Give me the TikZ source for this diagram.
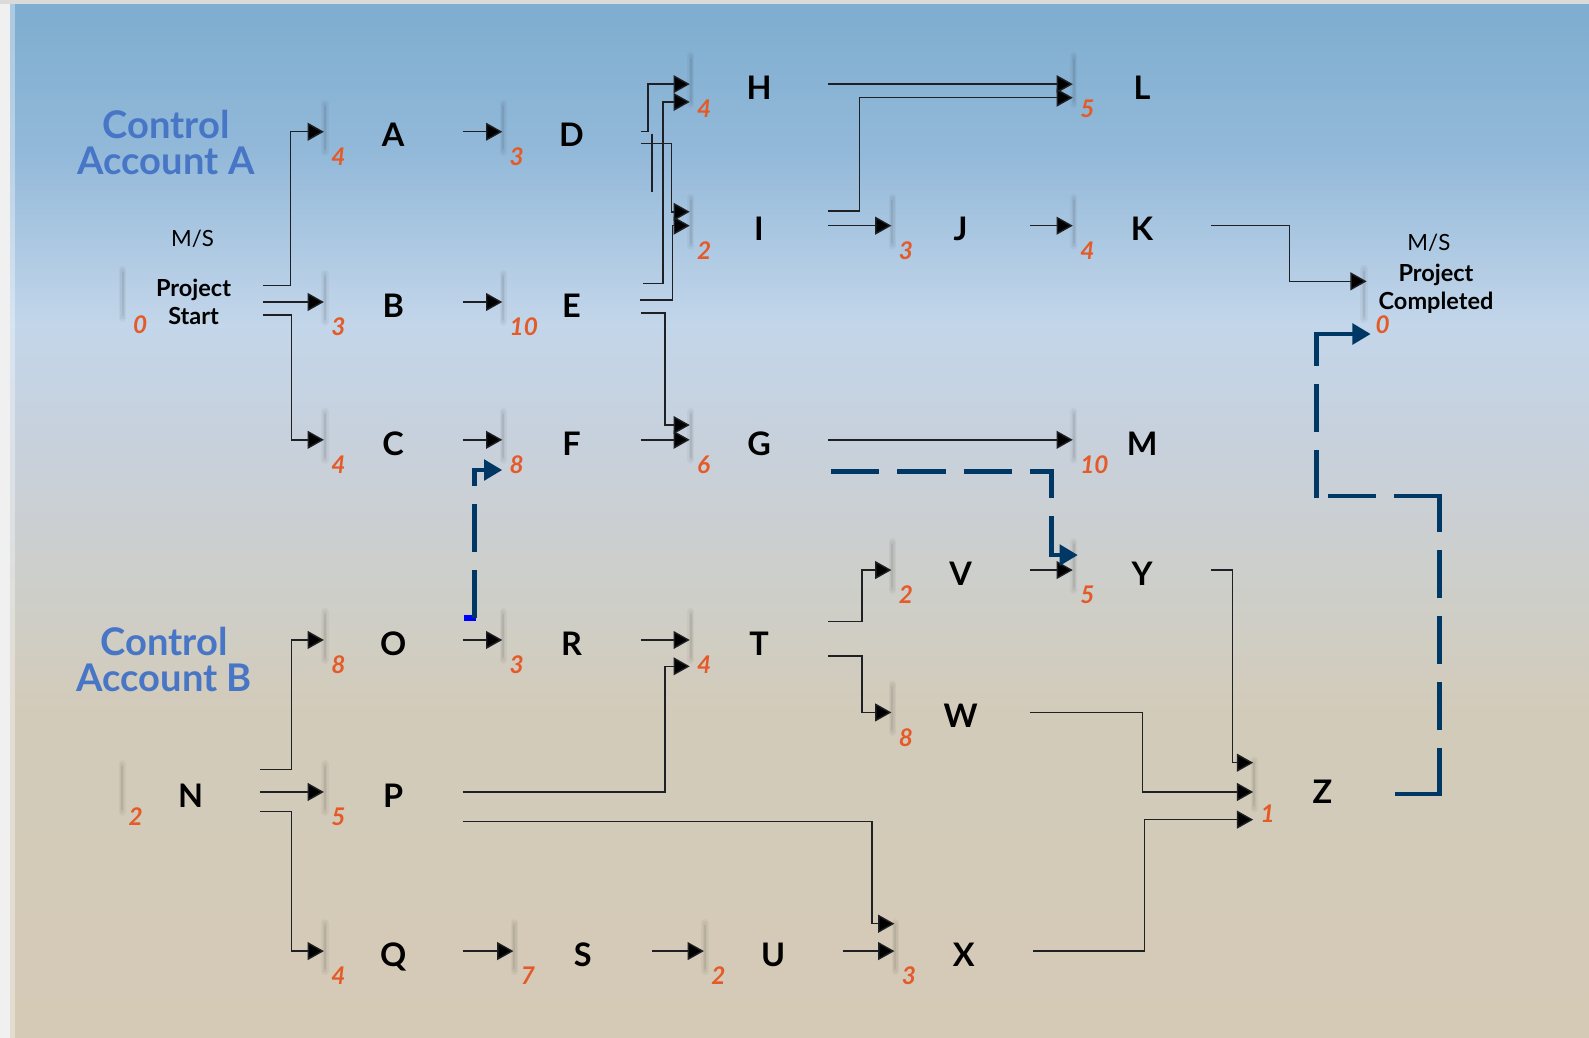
\documentclass[tikz,border=0pt]{standalone}
\usepackage{fontspec}
\setmainfont{Lato}
\usepackage{xcolor}
\usetikzlibrary{arrows.meta,positioning,calc}

\definecolor{durorange}{RGB}{228,90,40}
\definecolor{ctrlblue}{RGB}{72,118,198}
\definecolor{critnavy}{RGB}{0,56,101}
\definecolor{linkgray}{RGB}{30,32,36}
\definecolor{pagegray}{RGB}{218,218,218}
\definecolor{bgbeige}{RGB}{212,202,182}
\definecolor{bgsand}{RGB}{211,203,186}
\definecolor{bggray}{RGB}{205,207,204}
\definecolor{bgmist}{RGB}{200,208,218}
\definecolor{bglight}{RGB}{195,214,234}
\definecolor{bgsky}{RGB}{147,185,217}
\definecolor{bgtop}{RGB}{128,174,208}

\pgfdeclareverticalshading{panelshade}{100bp}{color(0bp)=(bgbeige); color(25bp)=(bgbeige);
  color(40.9bp)=(bgsand); color(47.7bp)=(bggray); color(53.1bp)=(bgmist);
  color(59.5bp)=(bglight); color(67.8bp)=(bgsky); color(74.2bp)=(bgtop); color(100bp)=(bgtop)}

\begin{document}
\begin{tikzpicture}[x=0.5pt, y=-0.5pt,
act/.style={font=\bfseries\fontsize{16pt}{16pt}\selectfont, minimum width=68pt, inner sep=0pt, text height=15pt, text depth=0pt},
ms/.style={font=\bfseries\fontsize{11.6pt}{13.8pt}\selectfont, align=center, minimum width=68pt, inner sep=0pt},
msl/.style={font=\fontsize{11pt}{13pt}\selectfont},
ctrl/.style={font=\bfseries\fontsize{18.8pt}{17.8pt}\selectfont, text=ctrlblue, align=center},
dur/.style={font=\bfseries\itshape\fontsize{12pt}{12pt}\selectfont, text=durorange, inner sep=0pt, anchor=north west},
arr/.style={draw=linkgray, line width=0.7pt, -{Triangle[length=8pt,width=8.8pt,fill=black]}},
crit/.style={draw=critnavy, line width=2.3pt, dash pattern=on 23.7pt off 8.9pt, -{Triangle[length=9pt,width=10pt]}},
gbar/.style={draw=black, line width=3.6pt, line cap=round, opacity=0.035},
gmid/.style={draw=black, line width=2.2pt, line cap=round, opacity=0.045},
gcore/.style={draw=black, line width=1pt, line cap=round, opacity=0.06}
]
% slide background
\useasboundingbox (0,0) rectangle (1568,1024);
\fill[pagegray] (0,0) rectangle (1568,1024);
\fill[white, opacity=0.6] (0,4) rectangle (10,1024);
\shade[shading=panelshade] (10,4) rectangle (1568,1024);
\fill[white, opacity=0.35] (10,4) rectangle (15,1024);

% control accounts and milestones
\node[ctrl] (caA) at (164,141) {Control\\Account A};
\node[ctrl] (caB) at (162,651) {Control\\Account B};
\node[msl] (PS-ms) at (190,236) {M/S};
\node[ms] (PS) at (191,298) {Project\\Start};
\node[msl] (PC-ms) at (1410,240) {M/S};
\node[ms] (PC) at (1417,285) {Project\\Completed};

% activities
\node[act] (A) at (388,130) {A};
\node[act] (B) at (388,298) {B};
\node[act] (C) at (388,434) {C};
\node[act] (D) at (564,130) {D};
\node[act] (E) at (564,298) {E};
\node[act] (F) at (564,434) {F};
\node[act] (H) at (749,83) {H};
\node[act] (I) at (749,222.7) {I};
\node[act] (G) at (749,434) {G};
\node[act] (J) at (948,222.7) {J};
\node[act] (L) at (1127,83) {L};
\node[act] (K) at (1127,222.7) {K};
\node[act] (M) at (1127,434) {M};
\node[act] (N) at (188,781.5) {N};
\node[act] (O) at (388,631.5) {O};
\node[act] (P) at (388,781.5) {P};
\node[act] (Q) at (388,938.5) {Q};
\node[act] (R) at (564,631.5) {R};
\node[act] (T) at (749,631.5) {T};
\node[act] (S) at (575,938.5) {S};
\node[act] (U) at (763,938.5) {U};
\node[act] (X) at (951,938.5) {X};
\node[act] (V) at (948,562.5) {V};
\node[act] (W) at (948,703) {W};
\node[act] (Y) at (1127,562.5) {Y};
\node[act] (Z) at (1305,778) {Z};

% shadow bars and durations
\foreach \n/\d in {A/4,B/3,C/4,D/3,E/10,F/8,G/6,H/4,I/2,J/3,K/4,L/5,M/10,
                   N/2,O/8,P/5,Q/4,R/3,S/7,T/4,U/2,V/2,W/8,X/3,Y/5,Z/1}{
  \draw[gbar] ($(\n.west)+(1,-28)$) -- ++(0,48);
  \draw[gmid] ($(\n.west)+(1,-27)$) -- ++(0,46);
  \draw[gcore] ($(\n.west)+(1,-25)$) -- ++(0,42);
  \node[dur] (\n-d) at ($(\n.south west)+(7,0)$) {\d};
}
\draw[gbar] (121,266) -- ++(0,48);
\draw[gmid] (121,267) -- ++(0,46);
\draw[gcore] (121,269) -- ++(0,42);
\node[dur] (PS-d) at (131,311) {0};
\draw[gbar] (1346,265) -- ++(0,50);
\draw[gmid] (1346,266) -- ++(0,48);
\draw[gcore] (1346,268) -- ++(0,44);
\node[dur] (PC-d) at (1357,311) {0};
\coordinate (pcin) at ($(PC.west)+(4,44.6)$);

% control account A
\draw[arr] ($(PS.east)+(0,-16)$) -- ++(27,0) |- (A.west);
\draw[arr] (PS.east) -- (B.west);
\draw[arr] ($(PS.east)+(0,13)$) -- ++(28,0) |- (C.west);
\draw[arr] (A.east) -- (D.west);
\draw[arr] (B.east) -- (E.west);
\draw[arr] (C.east) -- (F.west);
\draw[arr] (D.east) -- ++(7,0) |- (H.west);
\draw[arr] ($(D.east)+(0,11.4)$) -- ++(30,0) |- ($(I.west)+(0,-13.7)$);
\draw[linkgray, line width=0.7pt] ($(D.east)+(11,2)$) -- ++(0,57);
\draw[arr] ($(E.east)+(2,-18.4)$) -- ++(20,0) |- ($(H.west)+(0,17.6)$);
\draw[arr] ($(E.east)+(-1,-2)$) -- ++(32,0) |- (I.west);
\draw[arr] ($(E.east)+(0,11)$) -- ++(24,0) |- ($(G.west)+(0,-14.6)$);
\draw[arr] (F.east) -- (G.west);
\draw[arr] (H.east) -- (L.west);
\draw[arr] ($(I.east)+(0,-14.7)$) -- ++(31,0) |- ($(L.west)+(0,13.4)$);
\draw[arr] (I.east) -- (J.west);
\draw[arr] (J.east) -- (K.west);
\draw[arr] (K.east) -- ++(77,0) |- ($(PC.west)+(0,-7.4)$);
\draw[arr] (G.east) -- (M.west);

% control account B
\draw[arr] ($(N.east)+(0,-22.3)$) -- ++(31,0) |- (O.west);
\draw[arr] (N.east) -- (P.west);
\draw[arr] ($(N.east)+(0,19.5)$) -- ++(31,0) |- (Q.west);
\draw[arr] (O.east) -- (R.west);
\draw[arr] (R.east) -- (T.west);
\draw[arr] (P.east) -- ++(200,0) |- ($(T.west)+(0,26)$);
\draw[arr] ($(P.east)+(0,29.3)$) -- ++(404,0) |- ($(X.west)+(0,-27)$);
\draw[arr] (Q.east) -- (S.west);
\draw[arr] (S.east) -- (U.west);
\draw[arr] (U.east) -- (X.west);
\draw[arr] ($(T.east)+(0,-18)$) -- ++(33,0) |- (V.west);
\draw[arr] ($(T.east)+(0,16)$) -- ++(33,0) |- (W.west);
\draw[arr] (V.east) -- (Y.west);
\draw[arr] (Y.east) -- ++(21,0) |- ($(Z.west)+(0,-25.4)$);
\draw[arr] (W.east) -- ++(111,0) |- ($(Z.west)+(0,3.5)$);
\draw[arr] (X.east) -- ++(110,0) |- ($(Z.west)+(0,30.8)$);

% dependencies between accounts
\fill[blue] ($(O.east)+(1,-24.5)$) rectangle ++(12,5.5);
\draw[crit] ($(O.east)+(12,-21.5)$) |- ($(F.west)+(0,29.8)$);
\draw[crit] ($(G.east)+(3,31.4)$) -| ($(Y.west)+(-21,-14.8)$) -- ($(Y.west)+(5,-14.8)$);
\draw[crit, line cap=rect, dash pattern=on 21.4pt off 11.2pt]
  ($(Z.east)+(5.5,5.5)$) -- ++(41.5,0) coordinate (zc1)
  (zc1) -- ++(0,-294) coordinate (zc2)
  (zc2) -- ++(-121,0) coordinate (zc3)
  (zc3) -- (zc3 |- pcin)
  (zc3 |- pcin) -- (pcin);
\end{tikzpicture}
\end{document}
